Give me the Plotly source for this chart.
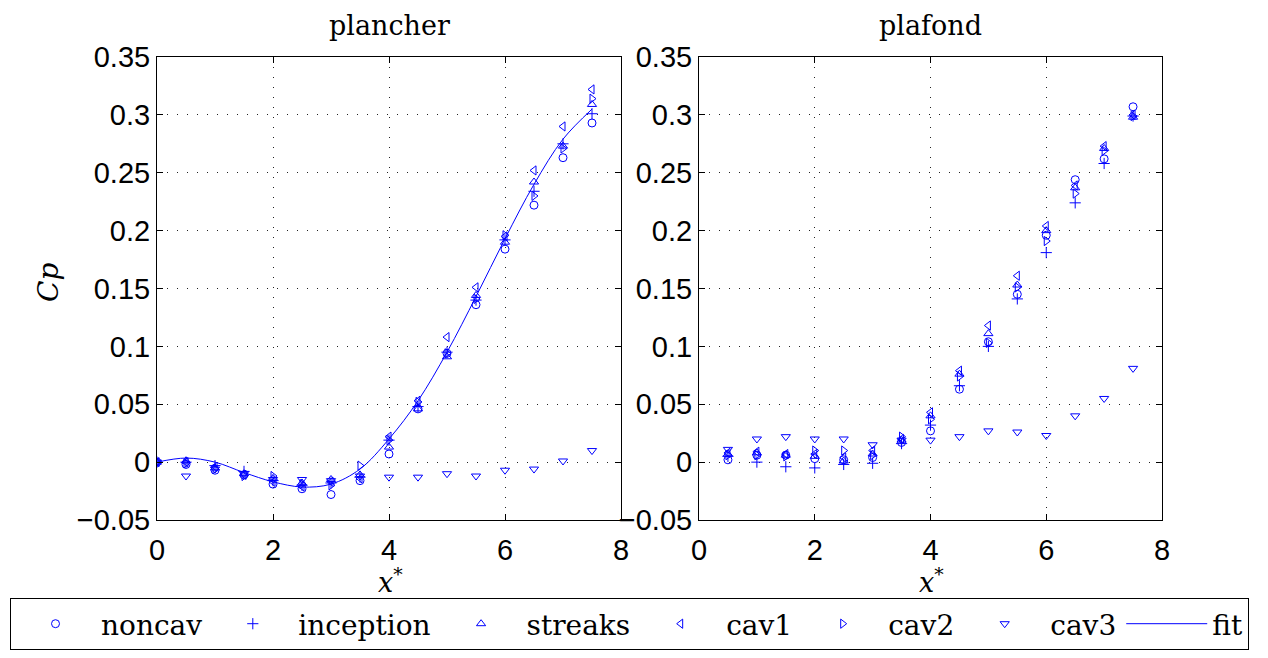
import plotly.graph_objects as go

# ---- data ----
x_left = [0, 0.5, 1, 1.5, 2, 2.5, 3, 3.5, 4, 4.5, 5, 5.5, 6, 6.5, 7, 7.5]
x_right = [0.5, 1, 1.5, 2, 2.5, 3, 3.5, 4, 4.5, 5, 5.5, 6, 6.5, 7, 7.5]

noncav_L = [0, -0.002, -0.007, -0.011, -0.019, -0.023, -0.028, -0.016, 0.007, 0.046, 0.094, 0.136, 0.184, 0.222, 0.263, 0.293]
inception_L = [0, 0.000, -0.003, -0.008, -0.016, -0.020, -0.018, -0.013, 0.019, 0.048, 0.095, 0.140, 0.192, 0.234, 0.275, 0.301]
streaks_L = [0, 0.001, -0.005, -0.010, -0.014, -0.018, -0.015, -0.011, 0.013, 0.046, 0.091, 0.144, 0.190, 0.242, 0.273, 0.309]
cav1_L = [0, 0.000, -0.004, -0.011, -0.017, -0.021, -0.017, -0.014, 0.022, 0.053, 0.108, 0.151, 0.195, 0.252, 0.290, 0.322]
cav2_L = [0, -0.001, -0.006, -0.012, -0.012, -0.019, -0.020, -0.003, 0.019, 0.052, 0.094, 0.141, 0.196, 0.230, 0.271, 0.314]
cav3_L = [0, -0.012, -0.006, -0.010, -0.015, -0.015, -0.016, -0.012, -0.013, -0.013, -0.010, -0.012, -0.007, -0.006, 0.001, 0.010]

noncav_R = [0.002, 0.006, 0.006, 0.003, 0.002, 0.004, 0.017, 0.027, 0.063, 0.104, 0.145, 0.196, 0.244, 0.262, 0.307]
inception_R = [0.005, 0.000, -0.004, -0.005, -0.002, -0.001, 0.016, 0.032, 0.066, 0.100, 0.141, 0.181, 0.224, 0.258, 0.299]
streaks_R = [0.007, 0.008, 0.006, 0.005, 0.001, 0.007, 0.019, 0.040, 0.076, 0.111, 0.153, 0.200, 0.237, 0.271, 0.298]
cav1_R = [0.008, 0.009, 0.007, 0.007, 0.004, 0.010, 0.020, 0.043, 0.079, 0.118, 0.161, 0.204, 0.239, 0.273, 0.300]
cav2_R = [0.006, 0.006, 0.005, 0.010, 0.010, 0.006, 0.022, 0.037, 0.074, 0.103, 0.151, 0.191, 0.232, 0.269, 0.299]
cav3_R = [0.011, 0.020, 0.022, 0.020, 0.020, 0.015, 0.019, 0.019, 0.022, 0.027, 0.026, 0.023, 0.040, 0.055, 0.081]

fit_x = [0, 0.5, 1, 1.5, 2, 2.5, 3, 3.5, 4, 4.5, 5, 5.5, 6, 6.5, 7, 7.5]
fit_y = [0, 0.0035, 0.000, -0.009, -0.017, -0.0215, -0.019, -0.006, 0.020, 0.053, 0.095, 0.143, 0.193, 0.240, 0.279, 0.305]

series_names = ["noncav", "inception", "streaks", "cav1", "cav2", "cav3"]
left_vals = [noncav_L, inception_L, streaks_L, cav1_L, cav2_L, cav3_L]
right_vals = [noncav_R, inception_R, streaks_R, cav1_R, cav2_R, cav3_R]
symbols = ["circle-open", "cross-thin-open", "triangle-up-open",
           "triangle-left-open", "triangle-right-open", "triangle-down-open"]

y_ticks = [-0.05, 0, 0.05, 0.1, 0.15, 0.2, 0.25, 0.3, 0.35]
y_ticktext = ["\u22120.05", "0", "0.05", "0.1", "0.15", "0.2", "0.25", "0.3", "0.35"]
x_ticks = [0, 2, 4, 6, 8]
x_ticktext = ["0", "2", "4", "6", "8"]

BLUE = "#0000ff"
SERIF = "DejaVu Serif"
SANS = "Liberation Sans"

fig = go.Figure()
for name, yl, yr, sym in zip(series_names, left_vals, right_vals, symbols):
    mk = dict(symbol=sym, size=8, color=BLUE, line=dict(color=BLUE, width=1))
    fig.add_trace(go.Scatter(x=x_left, y=yl, mode="markers", name=name, marker=mk,
                             xaxis="x", yaxis="y", legendgroup=name))
    fig.add_trace(go.Scatter(x=x_right, y=yr, mode="markers", name=name, marker=mk,
                             xaxis="x2", yaxis="y2", legendgroup=name, showlegend=False))

fig.add_trace(go.Scatter(x=fit_x, y=fit_y, mode="lines", name="fit",
                         line=dict(color=BLUE, width=1, shape="spline", smoothing=1.0),
                         xaxis="x", yaxis="y"))

W, H = 1268, 658
L, R, T, B = 10, 13, 57, 138
pw = W - L - R
ph = H - T - B

def px_x(p):
    return (p - L) / pw

def px_y(p):
    return (H - B - p) / ph

left_dom = [px_x(157), px_x(621)]
right_dom = [px_x(699), px_x(1162)]

axis_common = dict(showline=True, linecolor="black", linewidth=1, mirror="ticks",
                   ticks="inside", ticklen=6, tickcolor="black", tickwidth=1,
                   showgrid=True, gridcolor="#222222", gridwidth=1, griddash="1px,9px",
                   zeroline=False, tickfont=dict(family=SANS, size=29, color="black"))

fig.update_layout(
    width=W, height=H,
    margin=dict(l=L, r=R, t=T, b=B, autoexpand=False),
    paper_bgcolor="white", plot_bgcolor="white",
    xaxis=dict(domain=left_dom, range=[0, 8], tickvals=x_ticks, ticktext=x_ticktext,
               anchor="y", ticklabelstandoff=4, **axis_common),
    yaxis=dict(domain=[0, 1], range=[-0.05, 0.35], tickvals=y_ticks, ticktext=y_ticktext,
               anchor="x", **axis_common),
    xaxis2=dict(domain=right_dom, range=[0, 8], tickvals=x_ticks, ticktext=x_ticktext,
                anchor="y2", ticklabelstandoff=4, **axis_common),
    yaxis2=dict(domain=[0, 1], range=[-0.05, 0.35], tickvals=y_ticks, ticktext=y_ticktext,
                anchor="x2", **axis_common),
    showlegend=True,
    legend=dict(orientation="h", x=0, xanchor="left",
                y=px_y(598), yanchor="top",
                bordercolor="black", borderwidth=1, bgcolor="white",
                itemwidth=81, font=dict(family=SERIF, size=28, color="black")),
)

ann_font = dict(family=SERIF, size=27, color="black")
fig.add_annotation(text="plancher", x=(left_dom[0] + left_dom[1]) / 2, y=px_y(25),
                   xref="paper", yref="paper", showarrow=False, font=ann_font,
                   xanchor="center", yanchor="middle")
fig.add_annotation(text="plafond", x=(right_dom[0] + right_dom[1]) / 2, y=px_y(25),
                   xref="paper", yref="paper", showarrow=False, font=ann_font,
                   xanchor="center", yanchor="middle")
fig.add_annotation(text="<i>Cp</i>", x=px_x(48), y=px_y(283), textangle=-90,
                   xref="paper", yref="paper", showarrow=False,
                   xanchor="center", yanchor="middle",
                   font=dict(family=SERIF, size=28, color="black"))
for cx in (390, 932):
    fig.add_annotation(text="<i>x</i><sup>*</sup>", x=px_x(cx), y=px_y(580),
                       xref="paper", yref="paper", showarrow=False,
                       xanchor="center", yanchor="middle",
                       font=dict(family=SERIF, size=27, color="black"))

fig.write_html("out.html", config={"displayModeBar": False},
               post_script="document.body.style.margin='0px';")
